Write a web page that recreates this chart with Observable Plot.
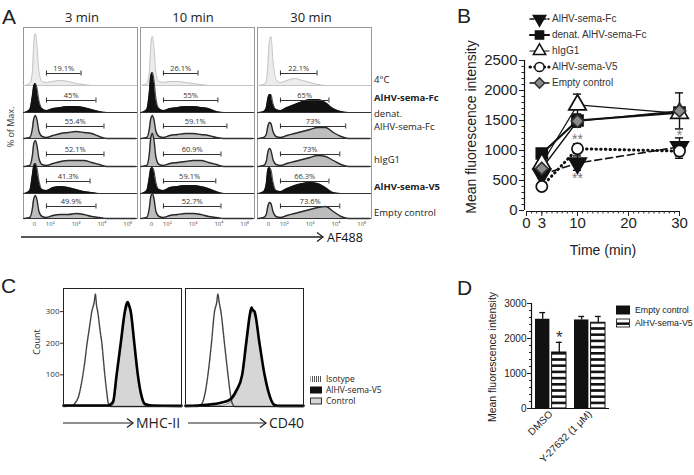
<!DOCTYPE html>
<html>
<head>
<meta charset="utf-8">
<script src="https://cdn.jsdelivr.net/npm/d3@7"></script>
<script src="https://cdn.jsdelivr.net/npm/@observablehq/plot@0.6"></script>
<style>
html,body{margin:0;padding:0;background:#fff;}
#fig{position:relative;width:694px;height:475px;overflow:hidden;background:#fff;color:#222;}
.t{position:absolute;white-space:nowrap;line-height:1;}
.box{position:absolute;}
</style>
</head>
<body>
<div id="fig"></div>
<script>
// ================= DATA =================
// ---- Panel A: flow histograms (AF488, % of max) ----
const timepoints = ["3 min", "10 min", "30 min"];
const rowNames = ["4°C", "AlHV-sema-Fc", "denat.\nAlHV-sema-Fc", "hIgG1", "AlHV-sema-V5", "Empty control"];
const histGrid = [1.0, 1.2, 1.3, 1.36, 1.42, 1.48, 1.56, 1.68, 1.85, 2.1, 2.4, 2.7, 3.0, 3.3, 3.6, 3.9, 4.2, 4.5, 5.3];
const hist3min = [
  [0, 2, 12, 42, 52, 40, 14, 4, 3, 4, 5, 4, 2, 1, 0, 0, 0, 0, 0],
  [0, 3, 16, 27, 29, 25, 12, 4, 2, 4, 5, 6, 6, 5, 3, 1, 0, 0, 0],
  [0, 1, 9, 20, 23, 19, 7, 2, 1, 3, 5, 6, 7, 6, 5, 2, 0, 0, 0],
  [0, 1, 10, 23, 26, 21, 8, 2, 1, 3, 5, 6, 6, 6, 4, 2, 0, 0, 0],
  [0, 3, 18, 28, 30, 26, 13, 4, 3, 6, 7, 6, 4, 2, 1, 0, 0, 0, 0],
  [0, 1, 9, 20, 23, 19, 7, 2, 1, 3, 4, 4, 5, 4, 2, 1, 0, 0, 0]
];
const hist10min = [
  [0, 2, 12, 40, 49, 38, 12, 4, 3, 4, 4, 3, 2, 1, 0, 0, 0, 0, 0],
  [0, 3, 20, 37, 40, 33, 14, 4, 2, 4, 5, 6, 6, 5, 4, 1, 0, 0, 0],
  [0, 1, 9, 20, 23, 19, 7, 2, 1, 3, 4, 5, 5, 4, 3, 1, 0, 0, 0],
  [0, 1, 12, 29, 33, 27, 9, 2, 1, 3, 4, 5, 6, 6, 4, 2, 0, 0, 0],
  [0, 3, 16, 25, 26, 23, 11, 4, 3, 6, 7, 8, 8, 7, 5, 2, 0, 0, 0],
  [0, 1, 10, 22, 25, 20, 7, 2, 1, 3, 4, 5, 5, 4, 2, 1, 0, 0, 0]
];
const hist30min = [
  [0, 1, 4, 20, 44, 49, 25, 6, 3, 5, 7, 5, 3, 1, 0, 0, 0, 0, 0],
  [0, 1, 5, 14, 18, 18, 9, 3, 2, 5, 8, 11, 13, 13, 10, 4, 1, 0, 0],
  [0, 1, 4, 12, 16, 15, 7, 2, 1, 3, 5, 7, 9, 11, 11, 6, 2, 0, 0],
  [0, 1, 5, 14, 18, 16, 7, 2, 1, 3, 5, 7, 9, 11, 10, 6, 2, 0, 0],
  [0, 2, 10, 24, 26, 24, 12, 3, 2, 5, 8, 10, 11, 10, 6, 1, 0, 0, 0],
  [0, 1, 4, 12, 16, 15, 7, 2, 1, 3, 5, 7, 9, 11, 12, 7, 2, 0, 0]
];
const gatePct3 = ["19.1%", "45%", "55.4%", "52.1%", "41.3%", "49.9%"];
const gatePct10 = ["26.1%", "55%", "59.1%", "60.9%", "59.1%", "52.7%"];
const gatePct30 = ["22.1%", "65%", "73%", "73%", "66.3%", "73.6%"];
const gateEnd3 = [3.19, 3.77, 4.08, 4.08, 3.54, 3.77];
const gateEnd10 = [3.19, 3.96, 4.31, 4.08, 3.88, 4.08];
const gateEnd30 = [3.27, 3.73, 4.38, 4.15, 3.73, 4.15];
const gateStart = 1.85;
const axisTickPos = [1.385, 2, 3, 4, 5];
const axisTickLabels = ["0", "10²", "10³", "10⁴", "10⁵"];

// ---- Panel B: MFI over time ----
const timesMin = [3, 10, 30];
const seriesB = ["AlHV-sema-Fc", "denat. AlHV-sema-Fc", "hIgG1", "AlHV-sema-V5", "Empty control"];
const mfiSemaFc = [600, 790, 1060];
const sdSemaFc = [60, 120, 150];
const mfiDenatFc = [950, 1500, 1630];
const sdDenatFc = [70, 110, 70];
const mfiHigG1 = [780, 1760, 1620];
const sdHigG1 = [60, 180, 80];
const mfiSemaV5 = [400, 1030, 990];
const sdSemaV5 = [40, 80, 120];
const mfiEmptyB = [700, 1490, 1660];
const sdEmptyB = [60, 100, 300];
const starsB = [{time: 10, mfi: 1180, label: "**"}, {time: 10, mfi: 530, label: "**"}, {time: 30, mfi: 1250, label: "*"}];
const xTicksB = [0, 3, 10, 20, 30];

// ---- Panel C: MHC-II / CD40 histograms ----
const markersC = ["MHC-II", "CD40"];
const legendC = ["Isotype", "AlHV-sema-V5", "Control"];
const isoMhcX = [0, 7, 10, 12.6, 16, 18, 20, 22, 24, 26, 27, 28, 29, 31, 32.5, 34, 35, 36.5, 38, 40, 100];
const isoMhcY = [0, 2, 12, 30, 90, 140, 200, 250, 300, 330, 355, 320, 300, 240, 200, 140, 100, 50, 10, 0, 0];
const v5MhcX = [0, 38, 42, 45, 48.5, 52, 53.5, 54.5, 55.5, 57, 60, 63, 66, 69, 75, 100];
const v5MhcY = [3, 3, 15, 100, 200, 300, 325, 330, 320, 300, 200, 100, 35, 8, 3, 2];
const ctrlMhcX = [0, 40, 42.5, 45.5, 49, 52.5, 54.5, 56.5, 59.5, 62.5, 66, 69, 100];
const ctrlMhcY = [0, 0, 10, 100, 200, 300, 318, 300, 200, 100, 25, 3, 0];
const isoCdX = [0, 10, 14, 17, 19, 22, 24.6, 26.5, 27.4, 28.5, 30, 33, 36, 38, 39.6, 42, 100];
const isoCdY = [0, 0, 10, 50, 100, 200, 300, 330, 355, 330, 300, 200, 100, 40, 10, 0, 0];
const v5CdX = [0, 10, 20, 30, 37, 43, 48, 51.4, 55, 56, 57, 58.5, 62.7, 67, 70, 75.4, 80, 100];
const v5CdY = [2, 3, 6, 12, 20, 50, 100, 200, 300, 313, 305, 300, 200, 100, 50, 5, 2, 2];
const ctrlCdX = [0, 30, 38, 43.5, 48.5, 52, 55, 56, 57.5, 59, 63, 67, 70, 75, 100];
const ctrlCdY = [0, 3, 15, 45, 100, 200, 290, 300, 292, 280, 190, 95, 45, 3, 0];

// ---- Panel D: MFI with ROCK inhibitor ----
const groupsD = ["DMSO", "Y-27632 (1 μM)"];
const seriesD = ["Empty control", "AlHV-sema-V5"];
const mfiEmptyD = [2550, 2530];
const sdEmptyD = [190, 100];
const mfiV5D = [1600, 2450];
const sdV5D = [290, 180];
const starsD = [{group: "DMSO", label: "*"}];

// ================= LAYOUT HELPERS =================
const fig = d3.select("#fig");
const SANS = "'Liberation Sans', Arial, sans-serif";
const OPEN = "'Open Sans', 'Noto Sans', sans-serif";
const plain = d3.format("d");
const deco = fig.append("svg").attr("width", 694).attr("height", 475)
  .style("position", "absolute").style("left", "0px").style("top", "0px");
const defs = deco.append("defs");
const ph = defs.append("pattern").attr("id", "hstripes").attr("patternUnits", "userSpaceOnUse").attr("width", 6).attr("height", 6.2);
ph.append("rect").attr("width", 6).attr("height", 6.2).attr("fill", "#fff");
ph.append("rect").attr("width", 6).attr("height", 2.6).attr("fill", "#111");
const pv = defs.append("pattern").attr("id", "vstripes").attr("patternUnits", "userSpaceOnUse").attr("width", 2).attr("height", 4);
pv.append("rect").attr("width", 2).attr("height", 4).attr("fill", "#fff");
pv.append("rect").attr("width", 1).attr("height", 4).attr("fill", "#555");

function addText(txt, x, y, o = {}) {
  const div = fig.append("div").attr("class", "t").text(txt)
    .style("left", x + "px").style("top", y + "px")
    .style("font-family", o.family || OPEN)
    .style("font-size", (o.size || 10) + "px")
    .style("font-weight", o.weight || "normal")
    .style("color", o.color || "#222");
  const tx = o.anchor === "middle" ? "-50%" : o.anchor === "end" ? "-100%" : "0";
  div.style("transform", `translate(${tx},-50%)` + (o.rotate ? ` rotate(${o.rotate}deg)` : ""));
  if (o.pre) div.style("white-space", "pre").style("line-height", o.lh || 1.3);
  return div;
}
function addPlot(svg, left, top, font, size) {
  const wrap = fig.append("div").attr("class", "box").style("left", left + "px").style("top", top + "px");
  svg.style.maxWidth = "none";
  svg.style.overflow = "visible";
  svg.style.background = "transparent";
  svg.style.fontFamily = font;
  svg.style.fontSize = size + "px";
  wrap.node().appendChild(svg);
  return svg;
}
function arrow(x1, x2, y, sw) {
  deco.append("line").attr("x1", x1).attr("x2", x2).attr("y1", y).attr("y2", y).attr("stroke", "#222").attr("stroke-width", sw);
  deco.append("path").attr("d", `M${x2 - 6},${y - 4.5}L${x2},${y}L${x2 - 6},${y + 4.5}`).attr("fill", "none").attr("stroke", "#222").attr("stroke-width", sw);
}

// ================= PANEL A =================
const rowBase = [133, 106, 80, 52, 25, 0];
const rowFill = ["#ececec", "#111", "#bdbdbd", "#bdbdbd", "#111", "#bdbdbd"];
const rowStroke = ["#c4c4c4", "#111", "#2a2a2a", "#2a2a2a", "#111", "#2a2a2a"];
const rowSW = [1, 0.8, 1.4, 1.4, 0.8, 1.4];
const histAll = [hist3min, hist10min, hist30min];
const gatePctAll = [gatePct3, gatePct10, gatePct30];
const gateEndAll = [gateEnd3, gateEnd10, gateEnd30];
const histRows = [], gates = [], bases = [];
timepoints.forEach((t, p) => {
  histAll[p].forEach((vals, r) => vals.forEach((h, i) =>
    histRows.push({time: t, row: r, u: histGrid[i], y1: rowBase[r], y2: rowBase[r] + h})));
  rowNames.forEach((n, r) => {
    gates.push({time: t, row: r, x1: gateStart, x2: gateEndAll[p][r], yb: rowBase[r] + 12, pct: gatePctAll[p][r]});
    bases.push({time: t, row: r, y: rowBase[r]});
  });
});
const tickLabelMap = new Map(axisTickPos.map((d, i) => [d, axisTickLabels[i]]));
const marksA = [Plot.frame({stroke: "#9a9a9a"})];
rowNames.forEach((n, r) => {
  const d = histRows.filter(e => e.row === r);
  marksA.push(Plot.areaY(d, {x: "u", y1: "y1", y2: "y2", fx: "time", z: "time", fill: rowFill[r], curve: "monotone-x"}));
  marksA.push(Plot.lineY(d, {x: "u", y: "y2", fx: "time", z: "time", stroke: rowStroke[r], strokeWidth: rowSW[r], curve: "monotone-x"}));
  marksA.push(Plot.ruleY(bases.filter(e => e.row === r), {y: "y", fx: "time", stroke: r === 0 ? "#c4c4c4" : "#333", strokeWidth: 1.1}));
});
marksA.push(
  Plot.ruleY(gates, {y: "yb", x1: "x1", x2: "x2", fx: "time", stroke: "#333", strokeWidth: 1}),
  Plot.ruleX(gates, {x: "x1", y1: d => d.yb - 2.5, y2: d => d.yb + 2.5, fx: "time", stroke: "#333", strokeWidth: 1}),
  Plot.ruleX(gates, {x: "x2", y1: d => d.yb - 2.5, y2: d => d.yb + 2.5, fx: "time", stroke: "#333", strokeWidth: 1}),
  Plot.text(gates, {x: d => (d.x1 + d.x2) / 2, y: "yb", dy: -5, fx: "time", text: "pct", fontSize: 7.5, fill: "#333"})
);
const plotA = Plot.plot({
  width: 374, height: 232, marginLeft: 22, marginRight: 1, marginTop: 27, marginBottom: 14,
  fx: {domain: timepoints, paddingInner: 0.0254, paddingOuter: 0, axis: null, label: null},
  x: {domain: [0.96, 5.38], ticks: axisTickPos, tickFormat: d => tickLabelMap.get(d), tickSize: 0, tickPadding: 3, label: null},
  y: {domain: [0, 191], axis: null},
  marks: marksA
});
addPlot(plotA, 0, 0, OPEN, 6).style.color = "#555";

const headerX = [82, 193, 311];
timepoints.forEach((t, i) => addText(t, headerX[i], 17, {size: 13, anchor: "middle", color: "#222"}));
const rowLabelY = [80, 98, 119.5, 160, 187, 213];
rowNames.forEach((n, r) => addText(n, 374, rowLabelY[r], {size: 9.5, weight: (r === 1 || r === 4) ? "bold" : "normal", pre: n.includes("\n"), lh: 1.37, color: "#222"}));
addText("% of Max.", 10, 127, {size: 9, anchor: "middle", rotate: -90, color: "#333"});
arrow(21, 323, 237, 1.3);
addText("AF488", 327, 238, {size: 12.5, color: "#111"});
addText("A", 2, 16, {size: 21, family: SANS, color: "#222"});

// ================= PANEL B =================
const mfiB = [mfiSemaFc, mfiDenatFc, mfiHigG1, mfiSemaV5, mfiEmptyB];
const sdB = [sdSemaFc, sdDenatFc, sdHigG1, sdSemaV5, sdEmptyB];
const rowsB = [];
seriesB.forEach((s, i) => timesMin.forEach((t, j) => rowsB.push({series: s, si: i, time: t, mfi: mfiB[i][j], sd: sdB[i][j]})));
const styleB = [
  {dash: "7,4", width: 1.6, symbol: "triangle", rotate: 180, fill: "#111", stroke: "#111", r: 6.5},
  {dash: null, width: 2.2, symbol: "square", rotate: 0, fill: "#111", stroke: "#111", r: 6.2},
  {dash: null, width: 1.2, symbol: "triangle", rotate: 0, fill: "#fff", stroke: "#111", r: 6.5},
  {dash: "0.5,4.2", width: 3, symbol: "circle", rotate: 0, fill: "#fff", stroke: "#111", r: 5.6},
  {dash: null, width: 1.4, symbol: "diamond2", rotate: 0, fill: "#8c8c8c", stroke: "#333", r: 5.6}
];
const capB = 0.8;
const marksB = [
  Plot.ruleX([0], {y1: 0, y2: 2500, dx: -2, stroke: "#111", strokeWidth: 1.2}),
  Plot.ruleY([0], {x1: 0, x2: 30, dy: 1, stroke: "#111", strokeWidth: 1.2}),
  Plot.axisY(d3.range(0, 2501, 500), {tickSize: 5, dx: -2, fontSize: 15, tickPadding: 2, tickFormat: plain, label: null}),
  Plot.axisY(d3.range(0, 2501, 100), {tickSize: 2.5, dx: -2, tickFormat: () => "", label: null}),
  Plot.axisX(xTicksB, {tickSize: 5, dy: 1, fontSize: 15, tickPadding: 1, tickFormat: plain, label: null}),
  Plot.axisX(d3.range(0, 31), {tickSize: 2.5, dy: 1, tickFormat: () => "", label: null})
];
styleB.forEach((st, i) => marksB.push(Plot.line(rowsB.filter(d => d.si === i), {
  x: "time", y: "mfi", stroke: "#111", strokeWidth: st.width, strokeDasharray: st.dash || undefined, strokeLinecap: "round"})));
marksB.push(
  Plot.ruleX(rowsB, {x: "time", y1: d => d.mfi - d.sd, y2: d => d.mfi + d.sd, stroke: "#111", strokeWidth: 1.4}),
  Plot.ruleY(rowsB, {y: d => d.mfi + d.sd, x1: d => d.time - capB, x2: d => d.time + capB, stroke: "#111", strokeWidth: 1.4}),
  Plot.ruleY(rowsB, {y: d => d.mfi - d.sd, x1: d => d.time - capB, x2: d => d.time + capB, stroke: "#111", strokeWidth: 1.4})
);
[1, 2, 0, 3, 4].forEach(i => {
  const st = styleB[i];
  marksB.push(Plot.dot(rowsB.filter(d => d.si === i), {x: "time", y: "mfi", symbol: st.symbol, r: st.r, rotate: st.rotate,
    fill: st.fill, stroke: st.stroke, strokeWidth: 1.7}));
});
marksB.push(Plot.text(starsB, {x: "time", y: "mfi", text: "label", fontSize: 14, fill: "#777"}));
const plotB = Plot.plot({
  width: 234, height: 200, marginLeft: 66, marginRight: 15, marginTop: 20, marginBottom: 30,
  x: {domain: [0, 30], axis: null},
  y: {domain: [0, 2500], axis: null},
  marks: marksB
});
addPlot(plotB, 460, 40, SANS, 15).style.color = "#222";
addText("Mean fluorescence intensity", 471, 127, {size: 14, family: SANS, anchor: "middle", rotate: -90, color: "#222"});
addText("Time (min)", 603, 250, {size: 14, family: SANS, anchor: "middle", color: "#222"});
addText("B", 457, 15, {size: 21, family: SANS, color: "#222"});
// legend B
const legB = deco.append("g");
const symMap = {triangle: d3.symbolTriangle, square: d3.symbolSquare, circle: d3.symbolCircle, diamond2: d3.symbolDiamond2};
seriesB.forEach((s, i) => {
  const st = styleB[i], y = 19 + 16 * i;
  legB.append("line").attr("x1", 530).attr("x2", 549).attr("y1", y).attr("y2", y).attr("stroke", "#111")
    .attr("stroke-width", st.width).attr("stroke-dasharray", st.dash ? (i === 0 ? "4,2" : st.dash) : null).attr("stroke-linecap", "round");
  legB.append("path").attr("d", d3.symbol(symMap[st.symbol], Math.PI * 4.6 * 4.6)())
    .attr("transform", `translate(539.5,${y}) rotate(${st.rotate})`).attr("fill", st.fill).attr("stroke", st.stroke).attr("stroke-width", 1.5);
  addText(s, 552, y, {size: 10, family: SANS, color: "#333"});
});

// ================= PANEL C =================
const rowsC = [];
function pushCurve(marker, kind, xs, ys) { xs.forEach((x, i) => rowsC.push({marker, kind, ch: x, count: ys[i]})); }
pushCurve("MHC-II", "iso", isoMhcX, isoMhcY);
pushCurve("MHC-II", "v5", v5MhcX, v5MhcY);
pushCurve("MHC-II", "ctrl", ctrlMhcX, ctrlMhcY);
pushCurve("CD40", "iso", isoCdX, isoCdY);
pushCurve("CD40", "v5", v5CdX, v5CdY);
pushCurve("CD40", "ctrl", ctrlCdX, ctrlCdY);
const cSel = k => rowsC.filter(d => d.kind === k);
const plotC = Plot.plot({
  width: 290, height: 130, marginLeft: 43, marginRight: 6, marginTop: 8, marginBottom: 4,
  fx: {domain: markersC, paddingInner: 0.0327, paddingOuter: 0, axis: null, label: null},
  x: {domain: [0, 100], axis: null},
  y: {domain: [0, 373], ticks: [100, 200, 300], tickSize: 3, tickPadding: 1, label: null},
  marks: [
    Plot.areaY(cSel("ctrl"), {x: "ch", y: "count", fx: "marker", z: "marker", fill: "#d6d6d6", curve: "monotone-x"}),
    Plot.lineY(cSel("ctrl"), {x: "ch", y: "count", fx: "marker", z: "marker", stroke: "#777", strokeWidth: 0.8, curve: "monotone-x"}),
    Plot.lineY(cSel("iso"), {x: "ch", y: "count", fx: "marker", z: "marker", stroke: "#444", strokeWidth: 1.5, strokeDasharray: "1,1", curve: "monotone-x"}),
    Plot.lineY(cSel("v5"), {x: "ch", y: "count", fx: "marker", z: "marker", stroke: "#000", strokeWidth: 2.6, curve: "monotone-x"}),
    Plot.frame({stroke: "#222"})
  ]
});
addPlot(plotC, 20, 280, OPEN, 8).style.color = "#333";
addText("Count", 36, 342, {size: 9, anchor: "middle", rotate: -90, color: "#222"});
addText("C", 1, 285, {size: 21, family: SANS, color: "#222"});
const cArrows = [[63, 133, 136], [188, 266, 269]];
markersC.forEach((m, i) => {
  arrow(cArrows[i][0], cArrows[i][1], 423, 1.2);
  addText(m, cArrows[i][2], 423, {size: 14, color: "#222"});
});
const swC = [{fill: "url(#vstripes)", stroke: "none"}, {fill: "#111", stroke: "#111"}, {fill: "#d6d6d6", stroke: "#333"}];
legendC.forEach((n, i) => {
  const y = 379 + 11 * i;
  deco.append("rect").attr("x", 310.5).attr("y", y - 3).attr("width", 11).attr("height", 6)
    .attr("fill", swC[i].fill).attr("stroke", swC[i].stroke).attr("stroke-width", 1);
  addText(n, 326, y, {size: 8.5, color: "#222"});
});

// ================= PANEL D =================
const rowsD = [];
groupsD.forEach((g, j) => {
  rowsD.push({group: g, series: seriesD[0], mfi: mfiEmptyD[j], sd: sdEmptyD[j]});
  rowsD.push({group: g, series: seriesD[1], mfi: mfiV5D[j], sd: sdV5D[j]});
});
const dW = 78, pIn = 0.2, pOut = 0.1;
const stepD = dW / (2 - pIn + 2 * pOut), bwD = stepD * (1 - pIn);
const halfIn = bwD / 2 + 1, barW = bwD / 2 - 1;
const cE = barW / 2, cV = halfIn + barW / 2; // bar centers within band
const capD = 3;
const dE = rowsD.filter(d => d.series === seriesD[0]);
const dV = rowsD.filter(d => d.series === seriesD[1]);
const plotD = Plot.plot({
  width: 160, height: 185, marginLeft: 71, marginRight: 11, marginTop: 13, marginBottom: 67,
  x: {domain: groupsD, paddingInner: pIn, paddingOuter: pOut, axis: null},
  y: {domain: [0, 3000], axis: null},
  marks: [
    Plot.ruleX(dE, {x: "group", y1: "mfi", y2: d => d.mfi + d.sd, dx: cE - bwD / 2, stroke: "#111", strokeWidth: 1.3}),
    Plot.ruleX(dV, {x: "group", y1: "mfi", y2: d => d.mfi + d.sd, dx: cV - bwD / 2, stroke: "#111", strokeWidth: 1.3}),
    Plot.tickY(dE, {x: "group", y: d => d.mfi + d.sd, insetLeft: cE - capD, insetRight: bwD - cE - capD, stroke: "#111", strokeWidth: 1.3}),
    Plot.tickY(dV, {x: "group", y: d => d.mfi + d.sd, insetLeft: cV - capD, insetRight: bwD - cV - capD, stroke: "#111", strokeWidth: 1.3}),
    Plot.barY(dE, {x: "group", y: "mfi", fill: "#111", insetRight: halfIn}),
    Plot.barY(dV, {x: "group", y: "mfi", fill: "url(#hstripes)", stroke: "#111", strokeWidth: 1, insetLeft: halfIn}),
    Plot.ruleY([0], {stroke: "#111", strokeWidth: 1.2}),
    Plot.ruleX([groupsD[0]], {y1: 0, y2: 3000, dx: -(bwD / 2 + pOut * stepD), stroke: "#111", strokeWidth: 1.2}),
    Plot.axisY(d3.range(0, 3001, 1000), {tickSize: 4, fontSize: 10, tickPadding: 1, tickFormat: plain, label: null}),
    Plot.axisY(d3.range(0, 3001, 200), {tickSize: 2, tickFormat: () => "", label: null}),
    Plot.axisX({tickRotate: -45, tickSize: 0, fontSize: 10, tickPadding: 4, label: null}),
    Plot.text(starsD, {x: "group", y: d => { const r = dV.find(e => e.group === d.group); return r.mfi + r.sd + 150; },
      text: "label", dx: cV - bwD / 2, fontSize: 17, fill: "#333"})
  ]
});
addPlot(plotD, 460, 290, SANS, 10).style.color = "#222";
addText("Mean fluorescence intensity", 492, 357, {size: 10.5, family: SANS, anchor: "middle", rotate: -90, color: "#222"});
addText("D", 457, 287, {size: 21, family: SANS, color: "#222"});
const swD = [{fill: "#111", stroke: "#111"}, {fill: "url(#hstripes)", stroke: "#333"}];
seriesD.forEach((s, i) => {
  const y = 310 + 13 * i;
  deco.append("rect").attr("x", 616.5).attr("y", y - 4).attr("width", 13).attr("height", 8)
    .attr("fill", swD[i].fill).attr("stroke", swD[i].stroke).attr("stroke-width", 1);
  addText(s, 635, y, {size: 8.8, family: SANS, color: "#222"});
});
</script>
</body>
</html>
